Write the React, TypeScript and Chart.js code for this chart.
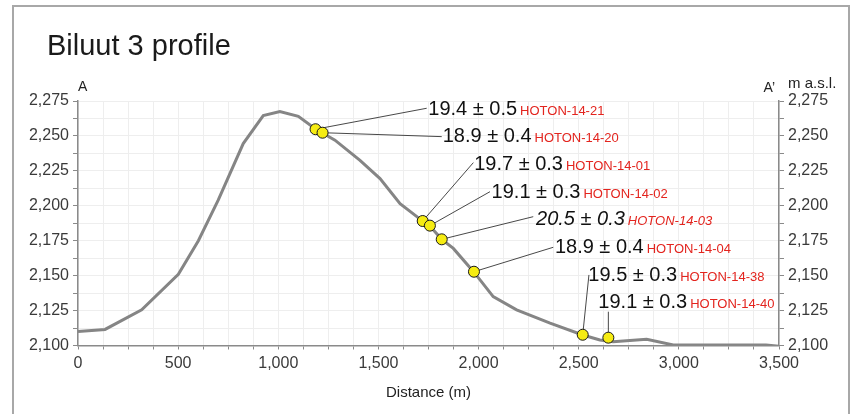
import { useEffect, useRef } from "react";
import { Chart, registerables } from "chart.js";

Chart.register(...registerables);

// Terrain profile (distance in m, elevation in m a.s.l.)
const profileDistance = [0, 135, 318, 501, 601, 700, 825, 925, 1008, 1100, 1186, 1283, 1408, 1508, 1608, 1721, 1757, 1816, 1874, 1977, 2073, 2190, 2357, 2520, 2606, 2672, 2839, 2972, 3435, 3500];
const profileElevation = [2110, 2111.5, 2125.5, 2151, 2175, 2204, 2244.5, 2264.5, 2267.5, 2264, 2255, 2247, 2232.5, 2219.5, 2201.5, 2189, 2185.5, 2176, 2169.5, 2152.5, 2135, 2125.5, 2116, 2107.5, 2104, 2102.7, 2104.4, 2100.4, 2100.3, 2099.5];

// Samples
const sampleIds = ["HOTON-14-21", "HOTON-14-20", "HOTON-14-01", "HOTON-14-02", "HOTON-14-03", "HOTON-14-04", "HOTON-14-38", "HOTON-14-40"];
const sampleAge = [19.4, 18.9, 19.7, 19.1, 20.5, 18.9, 19.5, 19.1];
const sampleError = [0.5, 0.4, 0.3, 0.3, 0.3, 0.4, 0.3, 0.3];
const sampleDistance = [1186, 1221, 1721, 1757, 1816, 1977, 2520, 2648];
const sampleElevation = [2254.8, 2252.3, 2189.1, 2185.8, 2176.0, 2152.8, 2107.7, 2105.6];
const sampleItalic = [false, false, false, false, true, false, false, false];

// Label anchors (data units): text start / baseline, and leader-line end
const labelDistance = [1749, 1821, 1978, 2065, 2287, 2381, 2548, 2598];
const labelElevation = [2265.0, 2245.5, 2225.6, 2205.8, 2186.3, 2166.0, 2146.2, 2126.6];
const leaderDistance = [1741, 1816, 1974, 2057, 2273, 2373, 2551, 2648];
const leaderElevation = [2269.8, 2249.5, 2230.9, 2210.1, 2192.2, 2170.3, 2150.5, 2124.2];

// Axes
const xMin = 0, xMax = 3500, xStep = 125, xLabelEvery = 500;
const yMin = 2100, yMax = 2275, yStep = 12.5, yLabelEvery = 25;

const FONT = "'Liberation Sans', Arial, Helvetica, sans-serif";

const fmt = (v: number) => v.toLocaleString("en-US");

export default function App() {
  const ref = useRef<HTMLCanvasElement | null>(null);

  useEffect(() => {
    const canvas = ref.current;
    if (!canvas) return;

    const overlay = {
      id: "overlay",
      beforeDraw(chart: any) {
        const ctx = chart.ctx;
        ctx.save();
        ctx.fillStyle = "#ffffff";
        ctx.fillRect(0, 0, chart.width, chart.height);
        ctx.strokeStyle = "#a8a8a8";
        ctx.lineWidth = 2;
        ctx.strokeRect(13, 6, 836, 430);
        ctx.restore();
      },
      beforeDatasetsDraw(chart: any) {
        const ctx = chart.ctx;
        const xs = chart.scales.x;
        const ys = chart.scales.y;
        ctx.save();
        ctx.strokeStyle = "#333333";
        ctx.lineWidth = 0.9;
        for (let i = 0; i < sampleIds.length; i++) {
          ctx.beginPath();
          ctx.moveTo(xs.getPixelForValue(sampleDistance[i]), ys.getPixelForValue(sampleElevation[i]));
          ctx.lineTo(xs.getPixelForValue(leaderDistance[i]), ys.getPixelForValue(leaderElevation[i]));
          ctx.stroke();
        }
        ctx.restore();
      },
      afterDraw(chart: any) {
        const ctx = chart.ctx;
        const xs = chart.scales.x;
        const ys = chart.scales.y;
        const area = chart.chartArea;
        ctx.save();
        ctx.textBaseline = "alphabetic";
        // Title
        ctx.fillStyle = "#1a1a1a";
        ctx.font = `29px ${FONT}`;
        ctx.textAlign = "left";
        ctx.fillText("Biluut 3 profile", 47, 55);
        // Corner labels
        ctx.font = `14px ${FONT}`;
        ctx.fillStyle = "#222";
        ctx.fillText("A", area.left, 91);
        ctx.textAlign = "right";
        ctx.fillText("A\u2019", area.right - 4, 92);
        ctx.textAlign = "left";
        ctx.font = `15px ${FONT}`;
        ctx.fillText("m a.s.l.", area.right + 9, 88);
        // X axis title
        ctx.textAlign = "center";
        ctx.font = `15px ${FONT}`;
        ctx.fillText("Distance (m)", (area.left + area.right) / 2, 397);
        // Sample labels
        ctx.textAlign = "left";
        for (let i = 0; i < sampleIds.length; i++) {
          const px = xs.getPixelForValue(labelDistance[i]);
          const py = ys.getPixelForValue(labelElevation[i]);
          const style = sampleItalic[i] ? "italic " : "";
          ctx.font = `${style}20px ${FONT}`;
          ctx.fillStyle = "#111111";
          const txt = `${sampleAge[i].toFixed(1)} \u00b1 ${sampleError[i].toFixed(1)}`;
          ctx.fillText(txt, px, py);
          const w = ctx.measureText(txt).width;
          ctx.font = `${style}13px ${FONT}`;
          ctx.fillStyle = "#e3241e";
          ctx.fillText(sampleIds[i], px + w + 3, py);
        }
        ctx.restore();
      },
    };

    const tickFont = { family: FONT, size: 16 };
    const chart = new Chart(canvas, {
      type: "line",
      data: {
        datasets: [
          {
            label: "Samples",
            data: sampleDistance.map((d, i) => ({ x: d, y: sampleElevation[i] })),
            showLine: false,
            pointRadius: 5.5,
            pointHoverRadius: 5.5,
            pointBackgroundColor: "#f6ec12",
            pointBorderColor: "#1a1a1a",
            pointBorderWidth: 1,
            order: 0,
          },
          {
            label: "Profile",
            data: profileDistance.map((d, i) => ({ x: d, y: profileElevation[i] })),
            borderColor: "#858585",
            borderWidth: 3,
            pointRadius: 0,
            tension: 0,
            fill: false,
            order: 1,
          },
        ],
      },
      options: {
        responsive: false,
        animation: false,
        devicePixelRatio: 1,
        layout: { padding: { top: 101, left: 0, right: 0, bottom: 0 } },
        plugins: { legend: { display: false }, tooltip: { enabled: false }, title: { display: false } },
        scales: {
          x: {
            type: "linear",
            min: xMin,
            max: xMax,
            afterFit(scale: any) { scale.height = 414 - 345.5; },
            ticks: {
              stepSize: xStep,
              autoSkip: false,
              maxRotation: 0,
              padding: 4,
              color: "#3a3a3a",
              font: tickFont,
              callback: (v: any) => (Number(v) % xLabelEvery === 0 ? fmt(Number(v)) : ""),
            },
            grid: { color: "#eeeeee", tickColor: "#8a8a8a", tickLength: 4, lineWidth: 1 },
            border: { display: true, color: "#8a8a8a", width: 1.5 },
          },
          y: {
            type: "linear",
            position: "left",
            min: yMin,
            max: yMax,
            afterFit(scale: any) { scale.width = 78; },
            ticks: {
              stepSize: yStep,
              autoSkip: false,
              padding: 4,
              color: "#3a3a3a",
              font: tickFont,
              callback: (v: any) => (Number(v) % yLabelEvery === 0 ? fmt(Number(v)) : ""),
            },
            grid: { color: "#eeeeee", tickColor: "#8a8a8a", tickLength: 5, lineWidth: 1 },
            border: { display: true, color: "#8a8a8a", width: 1.5 },
          },
          y2: {
            type: "linear",
            position: "right",
            min: yMin,
            max: yMax,
            afterFit(scale: any) { scale.width = 851 - 779; },
            ticks: {
              stepSize: yStep,
              autoSkip: false,
              padding: 4,
              color: "#3a3a3a",
              font: tickFont,
              callback: (v: any) => (Number(v) % yLabelEvery === 0 ? fmt(Number(v)) : ""),
            },
            grid: { drawOnChartArea: false, tickColor: "#8a8a8a", tickLength: 5 },
            border: { display: true, color: "#8a8a8a", width: 1.5 },
          },
        },
      },
      plugins: [overlay],
    });

    return () => chart.destroy();
  }, []);

  return (
    <div style={{ position: "absolute", left: 0, top: 0, width: 851, height: 414, background: "#fff", overflow: "hidden" }}>
      <canvas ref={ref} width={851} height={414} style={{ width: 851, height: 414, display: "block" }} />
    </div>
  );
}
